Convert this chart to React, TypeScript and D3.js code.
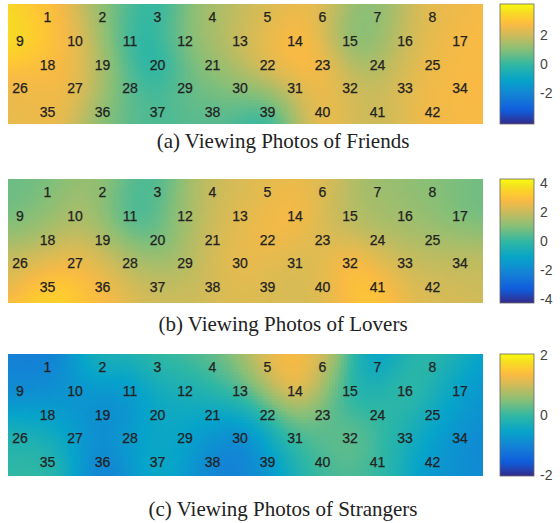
import * as d3 from "d3";

// channel numbers, row by row (rows alternate between 8 and 9 channels)
const channelRows: number[][] = [
  [1, 2, 3, 4, 5, 6, 7, 8],
  [9, 10, 11, 12, 13, 14, 15, 16, 17],
  [18, 19, 20, 21, 22, 23, 24, 25],
  [26, 27, 28, 29, 30, 31, 32, 33, 34],
  [35, 36, 37, 38, 39, 40, 41, 42],
];

// channel values 1..42
const friendsValues = [
  2.8, 1.0, -0.2, 1.4, 2.0, 2.4, 1.0, 2.4,
  3.9, 2.8, -0.3, 1.3, 2.1, 3.1, 0.0, 1.9, 2.7,
  2.7, 1.5, -1.0, 1.1, 2.7, 3.3, 1.4, 2.6,
  2.3, 2.9, 0.5, 0.8, 1.0, 2.2, 2.0, 2.4, 2.7,
  2.5, 0.7, 0.2, 0.3, -0.7, 2.6, 1.8, 2.6,
];
const loversValues = [
  0.7, 1.3, 0.2, 2.0, 2.3, 2.3, 1.3, 1.0,
  0.6, 1.8, -0.4, 1.6, 2.4, 3.3, 1.5, 1.3, 0.6,
  1.5, 1.7, 0.3, 2.2, 2.8, 2.0, 1.6, 1.5,
  2.0, 3.0, 1.8, 1.6, 2.7, 2.1, 3.6, 2.0, 2.0,
  3.8, 3.0, 2.2, 2.2, 2.2, 2.2, 3.3, 2.3,
];
const strangersValues = [
  -1.2, 0.0, 0.2, 0.4, 1.3, 1.2, -0.8, 0.0,
  -1.0, -0.8, -1.0, -0.4, 0.1, 1.9, -0.4, 0.3, -0.8,
  -0.6, -1.2, -0.4, -0.5, -0.2, 0.1, 0.0, -0.4,
  -0.1, -0.5, -0.5, -0.5, -1.3, 0.2, 0.6, -0.3, -1.0,
  0.1, -1.3, -0.4, -1.1, -0.9, 0.0, 0.0, -0.8,
];

const friendsTicks = [-2, 0, 2];
const loversTicks = [-4, -2, 0, 2, 4];
const strangersTicks = [-2, 0, 2];

const captions = [
  "(a) Viewing Photos of Friends",
  "(b) Viewing Photos of Lovers",
  "(c) Viewing Photos of Strangers",
];

// parula, sampled from the 64-entry map
const parulaPos = [0, 7, 15, 23, 31, 39, 47, 52, 55, 59, 63];
const parulaHex = ["#352a87", "#0f5cdd", "#1481d6", "#06a4ca", "#2eb7a4", "#87bf77", "#d1bb59", "#f8ba44", "#fec832", "#f5de21", "#f9fb0e"];

const W = 560;
const H = 523;
const mapLeft = 8;
const mapRight = 483;
const cell = 3;
const sigma = 24;

const panels = [
  { values: friendsValues, domain: [-4.1, 4.1], ticks: friendsTicks, caption: captions[0], top: 4, height: 120, capY: 148 },
  { values: loversValues, domain: [-4.3, 4.3], ticks: loversTicks, caption: captions[1], top: 179, height: 124, capY: 331 },
  { values: strangersValues, domain: [-2.05, 2.05], ticks: strangersTicks, caption: captions[2], top: 354, height: 122, capY: 516 },
];

const parula = d3.scaleLinear<string>()
  .domain(parulaPos.map((p) => p / 63))
  .range(parulaHex)
  .interpolate(d3.interpolateRgb)
  .clamp(true);

function Panel({ p, idx }: { p: typeof panels[0]; idx: number }) {
  const norm = d3.scaleLinear().domain(p.domain).range([0, 1]).clamp(true);
  const color = (v: number) => parula(norm(v));
  const x = d3.scaleLinear().domain([0, 16]).range([20, 460]);
  const y = d3.scaleLinear().domain([0, 4]).range([p.top + 13, p.top + 108]);

  const pts: { ch: number; px: number; py: number; v: number }[] = [];
  channelRows.forEach((row, r) => {
    row.forEach((ch, i) => {
      const col = (r % 2 === 0 ? 1 : 0) + 2 * i;
      pts.push({ ch, px: x(col), py: y(r), v: p.values[ch - 1] });
    });
  });

  const nx = Math.ceil((mapRight - mapLeft) / cell);
  const ny = Math.ceil(p.height / cell);
  const cells: { cx: number; cy: number; cw: number; ch: number; v: number }[] = [];
  for (let j = 0; j < ny; j++) {
    for (let i = 0; i < nx; i++) {
      const cx = mapLeft + i * cell;
      const cy = p.top + j * cell;
      const cw = Math.min(cell, mapRight - cx);
      const chh = Math.min(cell, p.top + p.height - cy);
      const mx = cx + cw / 2;
      const my = cy + chh / 2;
      let sw = 0;
      let sv = 0;
      for (const q of pts) {
        const d2 = (mx - q.px) ** 2 + (my - q.py) ** 2;
        const w = Math.exp(-d2 / (2 * sigma * sigma));
        sw += w;
        sv += w * q.v;
      }
      cells.push({ cx, cy, cw, ch: chh, v: sv / sw });
    }
  }

  const barX = 500;
  const barW = 34;
  const barScale = d3.scaleLinear().domain(p.domain).range([p.top + p.height, p.top]);
  const gid = `cbar${idx}`;
  const stops = d3.range(0, 1.0001, 0.025);

  return (
    <g>
      <g shapeRendering="crispEdges">
        {cells.map((c, k) => (
          <rect key={k} x={c.cx} y={c.cy} width={c.cw + 0.4} height={c.ch + 0.4} fill={color(c.v)} />
        ))}
      </g>
      {pts.map((q) => (
        <text key={q.ch} x={q.px} y={q.py} textAnchor="middle" dominantBaseline="central"
          fontFamily="Liberation Sans, Arial, sans-serif" fontSize={14} fill="#222" stroke="#222" strokeWidth={0.25}>
          {q.ch}
        </text>
      ))}
      <defs>
        <linearGradient id={gid} x1="0" y1="1" x2="0" y2="0">
          {stops.map((s) => (
            <stop key={s} offset={s} stopColor={parula(s)} />
          ))}
        </linearGradient>
      </defs>
      <rect x={barX} y={p.top} width={barW} height={p.height} fill={`url(#${gid})`} stroke="#666" strokeWidth={0.8} />
      {p.ticks.map((t) => (
        <text key={t} x={540} y={barScale(t)} dominantBaseline="central"
          fontFamily="Liberation Sans, Arial, sans-serif" fontSize={14} fill="#444">
          {String(t)}
        </text>
      ))}
      <text x={283} y={p.capY} textAnchor="middle" fontFamily="Liberation Serif, Times New Roman, serif"
        fontSize={21} fill="#222">
        {p.caption}
      </text>
    </g>
  );
}

export default function App() {
  return (
    <svg width={W} height={H} style={{ position: "absolute", left: 0, top: 0, background: "#fff" }}>
      <rect width={W} height={H} fill="#fff" />
      {panels.map((p, i) => (
        <Panel key={i} p={p} idx={i} />
      ))}
    </svg>
  );
}
